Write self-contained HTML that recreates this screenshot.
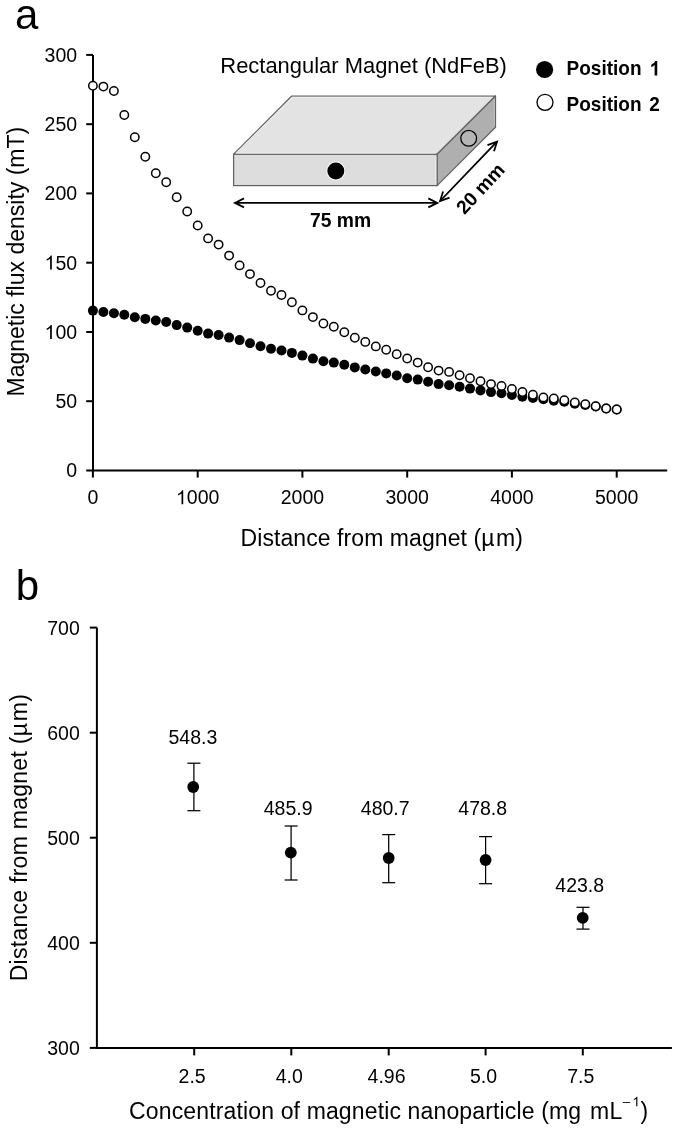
<!DOCTYPE html>
<html><head><meta charset="utf-8"><style>
html,body{margin:0;padding:0;background:#fff;width:675px;height:1128px;overflow:hidden}
svg{display:block;filter:grayscale(1)}
text{font-family:"Liberation Sans", sans-serif;fill:#000}
</style></head><body>
<svg width="675" height="1128" viewBox="0 0 675 1128">
<text x="15.0" y="29.3" font-size="42">a</text>
<line x1="93" y1="54.9" x2="93" y2="471.4" stroke="#000" stroke-width="2"/>
<line x1="92" y1="470.5" x2="667.2" y2="470.5" stroke="#000" stroke-width="2"/>
<line x1="86.2" y1="470.5" x2="93" y2="470.5" stroke="#000" stroke-width="2"/>
<text x="66.25" y="477.4" font-size="19.5">0</text>
<line x1="86.2" y1="401.2" x2="93" y2="401.2" stroke="#000" stroke-width="2"/>
<text x="55.41" y="408.1" font-size="19.5">50</text>
<line x1="86.2" y1="332.0" x2="93" y2="332.0" stroke="#000" stroke-width="2"/>
<path d="M51.83,338.90 L50.12,338.90 L50.12,327.98 Q49.50,328.57 48.49,329.16 Q47.48,329.75 46.68,330.05 L46.68,328.39 Q48.12,327.71 49.19,326.75 Q50.27,325.79 50.72,324.88 L51.83,324.88Z" fill="#000"/><text x="55.41" y="338.9" font-size="19.5">00</text>
<line x1="86.2" y1="262.7" x2="93" y2="262.7" stroke="#000" stroke-width="2"/>
<path d="M51.83,269.60 L50.12,269.60 L50.12,258.68 Q49.50,259.27 48.49,259.86 Q47.48,260.45 46.68,260.75 L46.68,259.09 Q48.12,258.41 49.19,257.45 Q50.27,256.49 50.72,255.58 L51.83,255.58Z" fill="#000"/><text x="55.41" y="269.6" font-size="19.5">50</text>
<line x1="86.2" y1="193.4" x2="93" y2="193.4" stroke="#000" stroke-width="2"/>
<text x="44.56" y="200.3" font-size="19.5">200</text>
<line x1="86.2" y1="124.2" x2="93" y2="124.2" stroke="#000" stroke-width="2"/>
<text x="44.56" y="131.1" font-size="19.5">250</text>
<line x1="86.2" y1="54.9" x2="93" y2="54.9" stroke="#000" stroke-width="2"/>
<text x="44.56" y="61.8" font-size="19.5">300</text>
<line x1="92.9" y1="470.5" x2="92.9" y2="477.6" stroke="#000" stroke-width="2"/>
<text x="87.48" y="504.3" font-size="19.5">0</text>
<line x1="197.7" y1="470.5" x2="197.7" y2="477.6" stroke="#000" stroke-width="2"/>
<path d="M183.23,504.30 L181.52,504.30 L181.52,493.38 Q180.90,493.97 179.89,494.56 Q178.88,495.15 178.08,495.45 L178.08,493.79 Q179.52,493.11 180.60,492.15 Q181.67,491.19 182.12,490.28 L183.23,490.28Z" fill="#000"/><text x="186.81" y="504.3" font-size="19.5">000</text>
<line x1="302.4" y1="470.5" x2="302.4" y2="477.6" stroke="#000" stroke-width="2"/>
<text x="280.73" y="504.3" font-size="19.5">2000</text>
<line x1="407.2" y1="470.5" x2="407.2" y2="477.6" stroke="#000" stroke-width="2"/>
<text x="385.49" y="504.3" font-size="19.5">3000</text>
<line x1="511.9" y1="470.5" x2="511.9" y2="477.6" stroke="#000" stroke-width="2"/>
<text x="490.25" y="504.3" font-size="19.5">4000</text>
<line x1="616.7" y1="470.5" x2="616.7" y2="477.6" stroke="#000" stroke-width="2"/>
<text x="595.01" y="504.3" font-size="19.5">5000</text>
<text x="240.6" y="545.6" font-size="23" letter-spacing="0.07">Distance from magnet (µ<tspan dx="1.6">m)</tspan></text>
<text transform="translate(24.1,396.5) rotate(-90)" x="0" y="0" font-size="23">Magnetic flux density (mT)</text>
<circle cx="92.9" cy="310.6" r="5.0" fill="#000"/>
<circle cx="103.4" cy="312.0" r="5.0" fill="#000"/>
<circle cx="113.9" cy="313.3" r="5.0" fill="#000"/>
<circle cx="124.3" cy="314.7" r="5.0" fill="#000"/>
<circle cx="134.8" cy="317.2" r="5.0" fill="#000"/>
<circle cx="145.3" cy="318.9" r="5.0" fill="#000"/>
<circle cx="155.8" cy="320.5" r="5.0" fill="#000"/>
<circle cx="166.2" cy="322.0" r="5.0" fill="#000"/>
<circle cx="176.7" cy="325.1" r="5.0" fill="#000"/>
<circle cx="187.2" cy="327.6" r="5.0" fill="#000"/>
<circle cx="197.7" cy="330.7" r="5.0" fill="#000"/>
<circle cx="208.1" cy="333.6" r="5.0" fill="#000"/>
<circle cx="218.6" cy="335.0" r="5.0" fill="#000"/>
<circle cx="229.1" cy="337.6" r="5.0" fill="#000"/>
<circle cx="239.6" cy="340.1" r="5.0" fill="#000"/>
<circle cx="250.0" cy="343.2" r="5.0" fill="#000"/>
<circle cx="260.5" cy="346.3" r="5.0" fill="#000"/>
<circle cx="271.0" cy="348.8" r="5.0" fill="#000"/>
<circle cx="281.5" cy="350.5" r="5.0" fill="#000"/>
<circle cx="291.9" cy="352.9" r="5.0" fill="#000"/>
<circle cx="302.4" cy="355.6" r="5.0" fill="#000"/>
<circle cx="312.9" cy="358.6" r="5.0" fill="#000"/>
<circle cx="323.4" cy="361.2" r="5.0" fill="#000"/>
<circle cx="333.8" cy="362.6" r="5.0" fill="#000"/>
<circle cx="344.3" cy="364.7" r="5.0" fill="#000"/>
<circle cx="354.8" cy="367.4" r="5.0" fill="#000"/>
<circle cx="365.3" cy="369.5" r="5.0" fill="#000"/>
<circle cx="375.8" cy="371.5" r="5.0" fill="#000"/>
<circle cx="386.2" cy="373.4" r="5.0" fill="#000"/>
<circle cx="396.7" cy="375.5" r="5.0" fill="#000"/>
<circle cx="407.2" cy="378.2" r="5.0" fill="#000"/>
<circle cx="417.7" cy="379.6" r="5.0" fill="#000"/>
<circle cx="428.1" cy="381.7" r="5.0" fill="#000"/>
<circle cx="438.6" cy="384.1" r="5.0" fill="#000"/>
<circle cx="449.1" cy="385.2" r="5.0" fill="#000"/>
<circle cx="459.6" cy="386.7" r="5.0" fill="#000"/>
<circle cx="470.0" cy="388.6" r="5.0" fill="#000"/>
<circle cx="480.5" cy="390.4" r="5.0" fill="#000"/>
<circle cx="491.0" cy="392.1" r="5.0" fill="#000"/>
<circle cx="501.5" cy="393.3" r="5.0" fill="#000"/>
<circle cx="511.9" cy="395.0" r="5.0" fill="#000"/>
<circle cx="522.4" cy="396.7" r="5.0" fill="#000"/>
<circle cx="532.9" cy="397.9" r="5.0" fill="#000"/>
<circle cx="543.4" cy="399.3" r="5.0" fill="#000"/>
<circle cx="553.8" cy="400.8" r="5.0" fill="#000"/>
<circle cx="564.3" cy="401.8" r="5.0" fill="#000"/>
<circle cx="574.8" cy="403.7" r="5.0" fill="#000"/>
<circle cx="585.3" cy="405.0" r="5.0" fill="#000"/>
<circle cx="595.7" cy="406.5" r="5.0" fill="#000"/>
<circle cx="606.2" cy="408.5" r="5.0" fill="#000"/>
<circle cx="616.7" cy="409.5" r="5.0" fill="#000"/>
<circle cx="92.9" cy="85.7" r="4.2" fill="#fff" stroke="#000" stroke-width="1.5"/>
<circle cx="103.4" cy="86.6" r="4.2" fill="#fff" stroke="#000" stroke-width="1.5"/>
<circle cx="113.9" cy="91.0" r="4.2" fill="#fff" stroke="#000" stroke-width="1.5"/>
<circle cx="124.3" cy="115.0" r="4.2" fill="#fff" stroke="#000" stroke-width="1.5"/>
<circle cx="134.8" cy="137.2" r="4.2" fill="#fff" stroke="#000" stroke-width="1.5"/>
<circle cx="145.3" cy="156.8" r="4.2" fill="#fff" stroke="#000" stroke-width="1.5"/>
<circle cx="155.8" cy="173.3" r="4.2" fill="#fff" stroke="#000" stroke-width="1.5"/>
<circle cx="166.2" cy="182.2" r="4.2" fill="#fff" stroke="#000" stroke-width="1.5"/>
<circle cx="176.7" cy="197.3" r="4.2" fill="#fff" stroke="#000" stroke-width="1.5"/>
<circle cx="187.2" cy="211.5" r="4.2" fill="#fff" stroke="#000" stroke-width="1.5"/>
<circle cx="197.7" cy="225.5" r="4.2" fill="#fff" stroke="#000" stroke-width="1.5"/>
<circle cx="208.1" cy="238.4" r="4.2" fill="#fff" stroke="#000" stroke-width="1.5"/>
<circle cx="218.6" cy="244.6" r="4.2" fill="#fff" stroke="#000" stroke-width="1.5"/>
<circle cx="229.1" cy="255.6" r="4.2" fill="#fff" stroke="#000" stroke-width="1.5"/>
<circle cx="239.6" cy="265.4" r="4.2" fill="#fff" stroke="#000" stroke-width="1.5"/>
<circle cx="250.0" cy="274.1" r="4.2" fill="#fff" stroke="#000" stroke-width="1.5"/>
<circle cx="260.5" cy="283.0" r="4.2" fill="#fff" stroke="#000" stroke-width="1.5"/>
<circle cx="271.0" cy="290.7" r="4.2" fill="#fff" stroke="#000" stroke-width="1.5"/>
<circle cx="281.5" cy="295.0" r="4.2" fill="#fff" stroke="#000" stroke-width="1.5"/>
<circle cx="291.9" cy="302.3" r="4.2" fill="#fff" stroke="#000" stroke-width="1.5"/>
<circle cx="302.4" cy="310.4" r="4.2" fill="#fff" stroke="#000" stroke-width="1.5"/>
<circle cx="312.9" cy="317.1" r="4.2" fill="#fff" stroke="#000" stroke-width="1.5"/>
<circle cx="323.4" cy="323.5" r="4.2" fill="#fff" stroke="#000" stroke-width="1.5"/>
<circle cx="333.8" cy="326.8" r="4.2" fill="#fff" stroke="#000" stroke-width="1.5"/>
<circle cx="344.3" cy="332.2" r="4.2" fill="#fff" stroke="#000" stroke-width="1.5"/>
<circle cx="354.8" cy="337.7" r="4.2" fill="#fff" stroke="#000" stroke-width="1.5"/>
<circle cx="365.3" cy="341.9" r="4.2" fill="#fff" stroke="#000" stroke-width="1.5"/>
<circle cx="375.8" cy="346.4" r="4.2" fill="#fff" stroke="#000" stroke-width="1.5"/>
<circle cx="386.2" cy="349.8" r="4.2" fill="#fff" stroke="#000" stroke-width="1.5"/>
<circle cx="396.7" cy="354.3" r="4.2" fill="#fff" stroke="#000" stroke-width="1.5"/>
<circle cx="407.2" cy="358.5" r="4.2" fill="#fff" stroke="#000" stroke-width="1.5"/>
<circle cx="417.7" cy="362.6" r="4.2" fill="#fff" stroke="#000" stroke-width="1.5"/>
<circle cx="428.1" cy="367.2" r="4.2" fill="#fff" stroke="#000" stroke-width="1.5"/>
<circle cx="438.6" cy="370.6" r="4.2" fill="#fff" stroke="#000" stroke-width="1.5"/>
<circle cx="449.1" cy="371.9" r="4.2" fill="#fff" stroke="#000" stroke-width="1.5"/>
<circle cx="459.6" cy="375.3" r="4.2" fill="#fff" stroke="#000" stroke-width="1.5"/>
<circle cx="470.0" cy="378.2" r="4.2" fill="#fff" stroke="#000" stroke-width="1.5"/>
<circle cx="480.5" cy="381.2" r="4.2" fill="#fff" stroke="#000" stroke-width="1.5"/>
<circle cx="491.0" cy="384.1" r="4.2" fill="#fff" stroke="#000" stroke-width="1.5"/>
<circle cx="501.5" cy="385.9" r="4.2" fill="#fff" stroke="#000" stroke-width="1.5"/>
<circle cx="511.9" cy="389.0" r="4.2" fill="#fff" stroke="#000" stroke-width="1.5"/>
<circle cx="522.4" cy="392.0" r="4.2" fill="#fff" stroke="#000" stroke-width="1.5"/>
<circle cx="532.9" cy="394.7" r="4.2" fill="#fff" stroke="#000" stroke-width="1.5"/>
<circle cx="543.4" cy="397.4" r="4.2" fill="#fff" stroke="#000" stroke-width="1.5"/>
<circle cx="553.8" cy="398.5" r="4.2" fill="#fff" stroke="#000" stroke-width="1.5"/>
<circle cx="564.3" cy="400.2" r="4.2" fill="#fff" stroke="#000" stroke-width="1.5"/>
<circle cx="574.8" cy="402.4" r="4.2" fill="#fff" stroke="#000" stroke-width="1.5"/>
<circle cx="585.3" cy="404.3" r="4.2" fill="#fff" stroke="#000" stroke-width="1.5"/>
<circle cx="595.7" cy="406.2" r="4.2" fill="#fff" stroke="#000" stroke-width="1.5"/>
<circle cx="606.2" cy="408.5" r="4.2" fill="#fff" stroke="#000" stroke-width="1.5"/>
<circle cx="616.7" cy="409.5" r="4.2" fill="#fff" stroke="#000" stroke-width="1.5"/>
<text x="220.3" y="72.6" font-size="21.95">Rectangular Magnet (NdFeB)</text>
<polygon points="233.6,154.3 291.7,96.0 495.5,96.0 437.1,154.3" fill="#e3e3e3" stroke="#646464" stroke-width="1.25" stroke-linejoin="round"/>
<polygon points="437.1,154.3 495.5,96.0 495.5,127.2 437.1,185.6" fill="#afafaf" stroke="#646464" stroke-width="1.25" stroke-linejoin="round"/>
<rect x="233.6" y="154.3" width="203.5" height="31.3" fill="#dddddd" stroke="#646464" stroke-width="1.25"/>
<polyline points="235.6,153.2 292.4,97.2 492.5,97.2" fill="none" stroke="#fff" stroke-width="1" stroke-opacity="0.55"/>
<line x1="236" y1="153.2" x2="435.6" y2="153.2" stroke="#fff" stroke-width="1" stroke-opacity="0.6"/>
<line x1="435.9" y1="156" x2="435.9" y2="184.4" stroke="#fff" stroke-width="1" stroke-opacity="0.5"/>
<line x1="494.3" y1="99" x2="494.3" y2="126" stroke="#fff" stroke-width="1" stroke-opacity="0.3"/>
<circle cx="335.8" cy="170.9" r="9.4" fill="#fff"/>
<circle cx="335.8" cy="170.9" r="8.5" fill="#000"/>
<circle cx="468.7" cy="138.3" r="7.9" fill="#b5b5b5" stroke="#000" stroke-width="1.3"/>
<line x1="235.0" y1="202.9" x2="437.3" y2="202.9" stroke="#000" stroke-width="1.8"/><polyline points="244.0,207.4 235.0,202.9 244.0,198.4" fill="none" stroke="#000" stroke-width="1.8" stroke-linejoin="miter"/><polyline points="428.3,207.4 437.3,202.9 428.3,198.4" fill="none" stroke="#000" stroke-width="1.8" stroke-linejoin="miter"/>
<line x1="440.1" y1="201.0" x2="497.0" y2="141.7" stroke="#000" stroke-width="1.8"/><polyline points="449.6,197.6 440.1,201.0 443.1,191.4" fill="none" stroke="#000" stroke-width="1.8" stroke-linejoin="miter"/><polyline points="494.0,151.3 497.0,141.7 487.5,145.1" fill="none" stroke="#000" stroke-width="1.8" stroke-linejoin="miter"/>
<text x="310.0" y="226.6" font-size="19.3" font-weight="bold">75 mm</text>
<text transform="translate(464.4,215.3) rotate(-47)" font-size="19.2" font-weight="bold">20 mm</text>
<circle cx="544.6" cy="69.5" r="8.6" fill="#000"/>
<circle cx="545.0" cy="102.3" r="8.0" fill="#fff" stroke="#000" stroke-width="1.3"/>
<text transform="translate(566.6,75.3) scale(1,1.05)" font-size="19" font-weight="bold">Position</text>
<g transform="translate(649.3,75.5) scale(1,1.06)"><path d="M7.94,0.00 L5.33,0.00 L5.33,-9.82 Q3.91,-8.49 1.97,-7.85 L1.97,-10.21 Q2.99,-10.55 4.18,-11.48 Q5.38,-12.40 5.83,-13.60 L7.94,-13.60Z" fill="#000"/></g>
<text transform="translate(566.6,110.6) scale(1,1.05)" font-size="19" font-weight="bold">Position</text>
<text transform="translate(649.2,110.6) scale(1,1.06)" font-size="19" font-weight="bold">2</text>
<text x="15.7" y="599.5" font-size="42">b</text>
<line x1="96.9" y1="627.6" x2="96.9" y2="1048.9" stroke="#000" stroke-width="2"/>
<line x1="96" y1="1047.9" x2="671.9" y2="1047.9" stroke="#000" stroke-width="2"/>
<line x1="89.8" y1="1047.9" x2="96.9" y2="1047.9" stroke="#000" stroke-width="2"/>
<text x="79.8" y="1054.8" font-size="19.5" text-anchor="end">300</text>
<line x1="89.8" y1="942.8" x2="96.9" y2="942.8" stroke="#000" stroke-width="2"/>
<text x="79.8" y="949.7" font-size="19.5" text-anchor="end">400</text>
<line x1="89.8" y1="837.7" x2="96.9" y2="837.7" stroke="#000" stroke-width="2"/>
<text x="79.8" y="844.6" font-size="19.5" text-anchor="end">500</text>
<line x1="89.8" y1="732.7" x2="96.9" y2="732.7" stroke="#000" stroke-width="2"/>
<text x="79.8" y="739.6" font-size="19.5" text-anchor="end">600</text>
<line x1="89.8" y1="627.6" x2="96.9" y2="627.6" stroke="#000" stroke-width="2"/>
<text x="79.8" y="634.5" font-size="19.5" text-anchor="end">700</text>
<line x1="194.2" y1="1047.9" x2="194.2" y2="1055.4" stroke="#000" stroke-width="2"/>
<text x="192.1" y="1082.6" font-size="19.5" text-anchor="middle">2.5</text>
<line x1="291.3" y1="1047.9" x2="291.3" y2="1055.4" stroke="#000" stroke-width="2"/>
<text x="289.2" y="1082.6" font-size="19.5" text-anchor="middle">4.0</text>
<line x1="388.7" y1="1047.9" x2="388.7" y2="1055.4" stroke="#000" stroke-width="2"/>
<text x="386.6" y="1082.6" font-size="19.5" text-anchor="middle">4.96</text>
<line x1="485.6" y1="1047.9" x2="485.6" y2="1055.4" stroke="#000" stroke-width="2"/>
<text x="483.5" y="1082.6" font-size="19.5" text-anchor="middle">5.0</text>
<line x1="582.8" y1="1047.9" x2="582.8" y2="1055.4" stroke="#000" stroke-width="2"/>
<text x="580.7" y="1082.6" font-size="19.5" text-anchor="middle">7.5</text>
<line x1="193.9" y1="763.2" x2="193.9" y2="810.7" stroke="#000" stroke-width="1.25"/>
<line x1="187.4" y1="763.2" x2="200.4" y2="763.2" stroke="#000" stroke-width="1.25"/>
<line x1="187.4" y1="810.7" x2="200.4" y2="810.7" stroke="#000" stroke-width="1.25"/>
<circle cx="193.2" cy="787.0" r="5.9" fill="#000"/>
<text x="192.9" y="744.3" font-size="19.5" text-anchor="middle">548.3</text>
<line x1="291.1" y1="826.0" x2="291.1" y2="880.0" stroke="#000" stroke-width="1.25"/>
<line x1="284.6" y1="826.0" x2="297.6" y2="826.0" stroke="#000" stroke-width="1.25"/>
<line x1="284.6" y1="880.0" x2="297.6" y2="880.0" stroke="#000" stroke-width="1.25"/>
<circle cx="290.8" cy="852.6" r="5.9" fill="#000"/>
<text x="288.1" y="814.8" font-size="19.5" text-anchor="middle">485.9</text>
<line x1="388.7" y1="834.6" x2="388.7" y2="882.7" stroke="#000" stroke-width="1.25"/>
<line x1="382.2" y1="834.6" x2="395.2" y2="834.6" stroke="#000" stroke-width="1.25"/>
<line x1="382.2" y1="882.7" x2="395.2" y2="882.7" stroke="#000" stroke-width="1.25"/>
<circle cx="388.7" cy="858.0" r="5.9" fill="#000"/>
<text x="385.2" y="814.8" font-size="19.5" text-anchor="middle">480.7</text>
<line x1="485.6" y1="836.6" x2="485.6" y2="883.7" stroke="#000" stroke-width="1.25"/>
<line x1="479.1" y1="836.6" x2="492.1" y2="836.6" stroke="#000" stroke-width="1.25"/>
<line x1="479.1" y1="883.7" x2="492.1" y2="883.7" stroke="#000" stroke-width="1.25"/>
<circle cx="485.6" cy="860.0" r="5.9" fill="#000"/>
<text x="482.7" y="814.8" font-size="19.5" text-anchor="middle">478.8</text>
<line x1="583.0" y1="907.3" x2="583.0" y2="929.1" stroke="#000" stroke-width="1.25"/>
<line x1="576.5" y1="907.3" x2="589.5" y2="907.3" stroke="#000" stroke-width="1.25"/>
<line x1="576.5" y1="929.1" x2="589.5" y2="929.1" stroke="#000" stroke-width="1.25"/>
<circle cx="582.7" cy="917.8" r="5.9" fill="#000"/>
<text x="579.7" y="891.5" font-size="19.5" text-anchor="middle">423.8</text>
<text transform="translate(26.8,981.3) rotate(-90)" font-size="23" letter-spacing="0.27">Distance from magnet (µ<tspan dx="1.6">m)</tspan></text>
<text x="129.1" y="1118.6" font-size="23" letter-spacing="0.14">Concentration of magnetic nanoparticle (mg <tspan dx="2.4">mL</tspan></text>
<text x="622.8" y="1106.3" font-size="13.4">–</text>
<path d="M637.39,1106.30 L636.21,1106.30 L636.21,1098.80 Q635.79,1099.20 635.10,1099.61 Q634.40,1100.01 633.85,1100.22 L633.85,1099.08 Q634.84,1098.61 635.58,1097.95 Q636.32,1097.29 636.63,1096.67 L637.39,1096.67Z" fill="#000"/>
<text x="640.6" y="1118.6" font-size="23">)</text>
</svg>
</body></html>
